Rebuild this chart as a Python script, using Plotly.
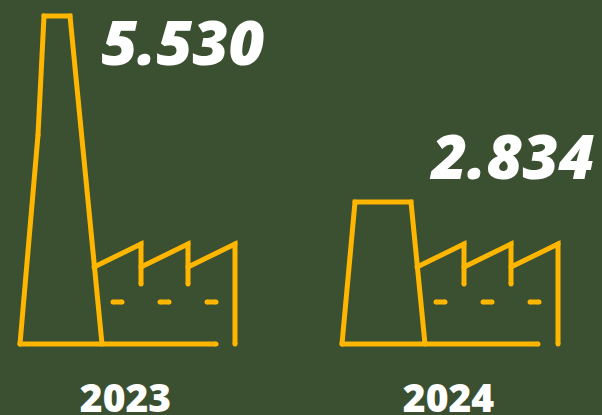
import plotly.graph_objects as go

years = ["2023", "2024"]
values = [5530, 2834]

BG = "#3b4f31"
AMBER = "#ffb600"
BASE = 776.0            # value at the icon's ground line
UNITS_PER_PX = (5530 - 2834) / 186.0
WIDTH, HEIGHT = 602, 415
GROUND_PX = 344

# icon geometry: offsets (x from icon origin, height above ground line)
origins = [20, 342]
roof_x = [74, 121, 121, None, 121, 168, 168, None, 168, 215, 215]
roof_h = [77, 100, 60, None, 77, 100, 60, None, 77, 100, 0]
dash_x = [93, 102, None, 140, 149, None, 187, 196]
dash_h = [42, 42, None, 42, 42, None, 42, 42]
ground_len = 196


def yv(h):
    return None if h is None else BASE + h * UNITS_PER_PX


xs, ys = [], []
for i, (year, value) in enumerate(zip(years, values)):
    o = origins[i]
    if i == 0:
        chim_x = [0, 18, 24, 50, 82]
        chim_y = [BASE, yv(209), value, value, BASE]
    else:
        chim_x = [0, 13, 69, 83]
        chim_y = [BASE, value, value, BASE]
    xs += [o + a for a in chim_x] + [None]
    ys += chim_y + [None]
    xs += [o, o + ground_len, None]
    ys += [BASE, BASE, None]
    shift = 0 if i == 0 else 1
    xs += [None if a is None else o + a + shift for a in roof_x] + [None]
    ys += [yv(h) for h in roof_h] + [None]
    xs += [None if a is None else o + a + shift for a in dash_x] + [None]
    ys += [yv(h) for h in dash_h] + [None]

fig = go.Figure()
fig.add_trace(go.Scatter(
    x=xs, y=ys, mode="lines+markers",
    line=dict(color=AMBER, width=5),
    marker=dict(color=AMBER, size=5),
    hoverinfo="skip", showlegend=False,
))

value_x = [183, 513]
value_px = [49, 163]
label_x = [125.5, 448.5]
label_px = 402.5
fig.add_trace(go.Scatter(
    x=value_x,
    y=[BASE + (GROUND_PX - p) * UNITS_PER_PX for p in value_px],
    mode="text",
    text=[f"{v:,}".replace(",", ".") for v in values],
    textposition="middle center",
    textfont=dict(family="Open Sans", size=62, color="white", weight=800, style="italic"),
    hoverinfo="skip", showlegend=False, cliponaxis=False,
))
fig.add_trace(go.Scatter(
    x=label_x,
    y=[BASE + (GROUND_PX - label_px) * UNITS_PER_PX] * 2,
    mode="text",
    text=years,
    textposition="middle center",
    textfont=dict(family="Open Sans", size=39, color="white", weight=800),
    hoverinfo="skip", showlegend=False, cliponaxis=False,
))

fig.update_layout(
    width=WIDTH, height=HEIGHT,
    margin=dict(l=0, r=0, t=0, b=0),
    paper_bgcolor=BG, plot_bgcolor=BG,
    xaxis=dict(range=[0, WIDTH], visible=False, fixedrange=True),
    yaxis=dict(range=[BASE + (GROUND_PX - HEIGHT) * UNITS_PER_PX,
                      BASE + GROUND_PX * UNITS_PER_PX],
               visible=False, fixedrange=True),
)
fig.write_html("out.html", config=dict(displayModeBar=False),
               default_width=f"{WIDTH}px", default_height=f"{HEIGHT}px",
               post_script="document.body.style.margin='0';document.body.style.background='%s';" % BG)
